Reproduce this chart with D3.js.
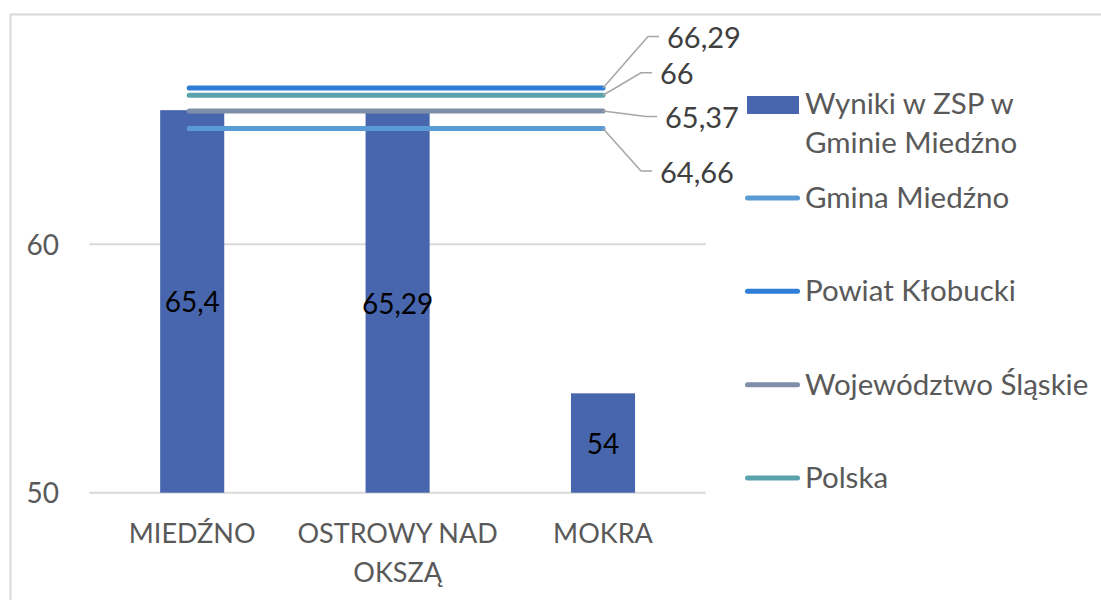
<!DOCTYPE html>
<html lang="pl">
<head>
<meta charset="utf-8">
<title>Wyniki w ZSP w Gminie Miedźno</title>
<script src="https://cdn.jsdelivr.net/npm/d3@7"></script>
<style>
  html, body { margin: 0; padding: 0; background: #ffffff; }
  svg { display: block; font-family: Lato, "Open Sans", sans-serif; }
</style>
</head>
<body>
<svg id="chart" width="1101" height="600"></svg>
<script>
// Categories (schools) and their results
const categories = ["MIEDŹNO", "OSTROWY NAD OKSZĄ", "MOKRA"];
const schoolResults = [65.4, 65.29, 54];
const barSeriesName = "Wyniki w ZSP w Gminie Miedźno";

// Reference averages drawn as horizontal lines
const referenceNames = ["Gmina Miedźno", "Powiat Kłobucki", "Województwo Śląskie", "Polska"];
const referenceValues = [64.66, 66.29, 65.37, 66];

// Value axis
const yTicks = [50, 60];
const yDomain = [50, 70];

// Styling
const barColor = "#4866AD";
const referenceColors = ["#5B9BD5", "#2E7DD6", "#7F8FA9", "#5AA2AE"];
const textGrey = "#595959";
const gridGrey = "#D9D9D9";

// Placement of the value callouts for the reference lines (offset from line end)
const calloutOffsets = [
  { dx: 57, dy: 44 },   // Gmina Miedźno
  { dx: 64, dy: -50 },  // Powiat Kłobucki
  { dx: 62, dy: 7 },    // Województwo Śląskie
  { dx: 57, dy: -21 }   // Polska
];

const fmt = v => String(v).replace(".", ",");

const svg = d3.select("#chart");

// Outer chart frame (top and left edges visible)
svg.append("path")
  .attr("d", "M10.5,600 V14.5 H1101")
  .attr("fill", "none")
  .attr("stroke", gridGrey)
  .attr("stroke-width", 2);

const plot = { left: 89.5, right: 705.7, bottom: 492.7 };
const pxPerUnit = 24.84;

const x = d3.scaleBand()
  .domain(categories)
  .range([plot.left, plot.right])
  .paddingInner(0.688)
  .paddingOuter(0.344);

const y = d3.scaleLinear()
  .domain(yDomain)
  .range([plot.bottom, plot.bottom - (yDomain[1] - yDomain[0]) * pxPerUnit]);

// Gridlines
svg.append("g")
  .selectAll("line")
  .data(yTicks)
  .join("line")
  .attr("x1", plot.left)
  .attr("x2", plot.right)
  .attr("y1", d => y(d))
  .attr("y2", d => y(d))
  .attr("stroke", gridGrey)
  .attr("stroke-width", 2);

// Y axis tick labels
const yAxis = d3.axisLeft(y).tickValues(yTicks).tickSize(0).tickPadding(0).tickFormat(d3.format("d"));
const yAxisG = svg.append("g")
  .attr("transform", `translate(59,0)`)
  .call(yAxis);
yAxisG.select(".domain").remove();
yAxisG.selectAll("text")
  .attr("fill", textGrey)
  .attr("font-size", 28)
  .attr("font-family", "Lato, sans-serif")
  .attr("dy", "0.36em");

// Bars
const bars = categories.map((c, i) => ({ cat: c, value: schoolResults[i] }));
svg.append("g")
  .selectAll("rect")
  .data(bars)
  .join("rect")
  .attr("x", d => x(d.cat))
  .attr("width", x.bandwidth())
  .attr("y", d => y(d.value))
  .attr("height", d => y(yDomain[0]) - y(d.value))
  .attr("fill", barColor);

// Bar value labels (centered in bar)
svg.append("g")
  .selectAll("text")
  .data(bars)
  .join("text")
  .attr("x", d => x(d.cat) + x.bandwidth() / 2)
  .attr("y", d => (y(d.value) + y(yDomain[0])) / 2 + 11)
  .attr("text-anchor", "middle")
  .attr("font-size", 28)
  .attr("fill", "#000000")
  .text(d => fmt(d.value));

// Category labels (wrapped onto two lines when needed)
const catLines = {
  "MIEDŹNO": ["MIEDŹNO"],
  "OSTROWY NAD OKSZĄ": ["OSTROWY NAD", "OKSZĄ"],
  "MOKRA": ["MOKRA"]
};
const catG = svg.append("g");
categories.forEach(c => {
  const t = catG.append("text")
    .attr("x", x(c) + x.bandwidth() / 2)
    .attr("y", 543)
    .attr("text-anchor", "middle")
    .attr("font-size", 27)
    .attr("fill", textGrey);
  catLines[c].forEach((line, j) => {
    t.append("tspan")
      .attr("x", x(c) + x.bandwidth() / 2)
      .attr("dy", j === 0 ? 0 : 39)
      .text(line);
  });
});

// Reference lines spanning first to last category centre
const xStart = x(categories[0]) + x.bandwidth() / 2 - 3;
const xEnd = x(categories[categories.length - 1]) + x.bandwidth() / 2;
const refs = referenceNames.map((n, i) => ({
  name: n, value: referenceValues[i], color: referenceColors[i], off: calloutOffsets[i]
}));
// draw in an order so that the darker blue sits on top of the teal
const drawOrder = [0, 2, 3, 1];
svg.append("g")
  .selectAll("line")
  .data(drawOrder.map(i => refs[i]))
  .join("line")
  .attr("x1", xStart)
  .attr("x2", xEnd)
  .attr("y1", d => y(d.value))
  .attr("y2", d => y(d.value))
  .attr("stroke", d => d.color)
  .attr("stroke-width", 5)
  .attr("stroke-linecap", "round");

// Callouts with leader lines
const callG = svg.append("g");
refs.forEach(d => {
  const ly = y(d.value);
  const tx = xEnd + d.off.dx;
  const ty = ly + d.off.dy;
  const leaderY = ty - 1.5;
  callG.append("path")
    .attr("d", `M${xEnd},${ly} L${tx - 19},${leaderY} H${tx - 8}`)
    .attr("fill", "none")
    .attr("stroke", "#A6A6A6")
    .attr("stroke-width", 1.5);
  callG.append("text")
    .attr("x", tx)
    .attr("y", ty + 10)
    .attr("font-size", 29)
    .attr("fill", "#404040")
    .text(fmt(d.value));
});

// Legend
const legend = svg.append("g");
legend.append("rect")
  .attr("x", 747).attr("y", 96)
  .attr("width", 52).attr("height", 18)
  .attr("fill", barColor);
const lt = legend.append("text")
  .attr("x", 805).attr("y", 114)
  .attr("font-size", 29.5)
  .attr("fill", textGrey);
lt.append("tspan").attr("x", 805).attr("dy", 0).text("Wyniki w ZSP w");
lt.append("tspan").attr("x", 805).attr("dy", 39).text("Gminie Miedźno");

const legendY = d3.scalePoint().domain(referenceNames).range([198, 478]);
refs.forEach(d => {
  const ly = legendY(d.name);
  legend.append("line")
    .attr("x1", 747.5).attr("x2", 797.5)
    .attr("y1", ly).attr("y2", ly)
    .attr("stroke", d.color)
    .attr("stroke-width", 5)
    .attr("stroke-linecap", "round");
  legend.append("text")
    .attr("x", 805).attr("y", ly + 10)
    .attr("font-size", 29.5)
    .attr("fill", textGrey)
    .text(d.name);
});
</script>
</body>
</html>
